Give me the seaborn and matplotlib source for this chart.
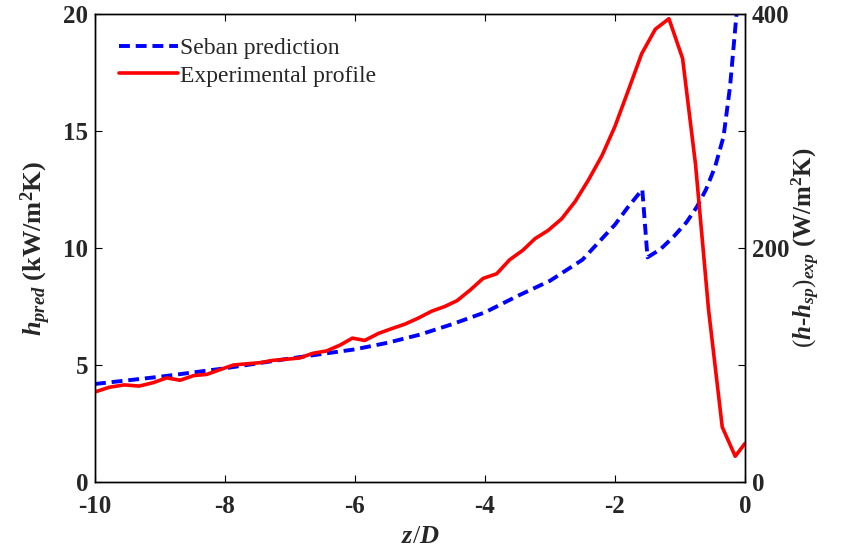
import numpy as np
import pandas as pd
import matplotlib.pyplot as plt
import seaborn as sns
from matplotlib.lines import Line2D

# Seban prediction (kW/m2K)
z_seban = [-10, -9, -8, -7, -6, -5.5, -5, -4.5, -4, -3.5, -3, -2.5, -2, -1.8, -1.58,
           -1.5, -1.3, -1.1, -0.9, -0.74, -0.6, -0.46, -0.33, -0.23, -0.13, -0.05]
h_seban = [4.19, 4.5, 4.86, 5.28, 5.67, 5.95, 6.3, 6.75, 7.25, 7.95, 8.6, 9.5, 11.0, 11.75, 12.5,
           9.6, 9.95, 10.48, 11.1, 11.76, 12.5, 13.47, 14.76, 16.9, 20.0, 24.0]

# experimental profile (W/m2K)
z_exp = [-10.0, -9.78, -9.55, -9.32, -9.10, -8.90, -8.69, -8.48, -8.28, -8.08,
         -7.87, -7.67, -7.46, -7.26, -7.05, -6.85, -6.65, -6.44, -6.23, -6.04,
         -5.85, -5.64, -5.44, -5.23, -5.03, -4.82, -4.62, -4.43, -4.23, -4.03,
         -3.82, -3.62, -3.42, -3.23, -3.03, -2.82, -2.61, -2.41, -2.20, -2.00,
         -1.80, -1.59, -1.38, -1.17, -0.96, -0.76, -0.56, -0.35, -0.15, 0.0]
h_exp = [77, 81, 83, 82, 85, 89, 87, 91, 92, 96,
         100, 101, 102, 104, 105, 106, 110, 112, 117, 123,
         121, 127, 131, 135, 140, 146, 150, 155, 164, 174,
         178, 190, 198, 208, 215, 225, 240, 258, 279, 304,
         334, 366, 387, 396, 362, 271, 147, 47, 22, 33]

sns.set_style("ticks")
plt.rcParams['font.family'] = ['Liberation Serif', 'DejaVu Serif']
plt.rcParams['mathtext.fontset'] = 'custom'
plt.rcParams['mathtext.rm'] = 'Liberation Serif'
plt.rcParams['mathtext.it'] = 'Liberation Serif:italic:bold'
plt.rcParams['mathtext.bf'] = 'Liberation Serif:bold'
plt.rcParams['xtick.direction'] = 'in'
plt.rcParams['ytick.direction'] = 'in'
plt.rcParams['axes.unicode_minus'] = False

fig = plt.figure(figsize=(8.46, 5.5), dpi=100)
ax = fig.add_axes([0.1123, 0.1236, 0.7683, 0.8509])
ax2 = ax.twinx()

seban = pd.DataFrame({"z": z_seban, "h": h_seban})
exp = pd.DataFrame({"z": z_exp, "h": h_exp})

sns.lineplot(data=seban, x="z", y="h", ax=ax, color="#0000ff", lw=2.8, sort=False)
ax.lines[0].set_dashes([2.8, 1.5])
sns.lineplot(data=exp, x="z", y="h", ax=ax2, color="#ff0000", lw=2.6, sort=False)

ax.set_xlim(-10, 0)
ax.set_ylim(0, 20)
ax2.set_ylim(0, 400)
ax.set_xticks([-10, -8, -6, -4, -2, 0])
ax.set_yticks([0, 5, 10, 15, 20])
ax2.set_yticks([0, 100, 200, 300, 400])
ax2.set_yticklabels(["0", "", "200", "", "400"])

for a in (ax, ax2):
    a.tick_params(labelsize=18, length=5, width=0.8, color="black", pad=5)
    for lab in a.get_xticklabels() + a.get_yticklabels():
        lab.set_fontweight("bold")
    for sp in a.spines.values():
        sp.set_visible(True)
        sp.set_linewidth(1.0)
        sp.set_color("black")
ax.tick_params(axis="x", pad=9)
ax.tick_params(top=True, right=False)
ax2.tick_params(right=True, left=False)

ax.set_xlabel(r"$z/D$", fontsize=19, labelpad=6)
ax.set_ylabel(r"$h_{pred}$ (kW/m$^{\mathbf{2}}$K)", fontsize=19, fontweight="bold", labelpad=7)
ax2.set_ylabel(r"$(h$-$h_{sp})_{exp}$ (W/m$^{\mathbf{2}}$K)", fontsize=18, fontweight="bold",
               rotation=90, labelpad=0)

handles = [Line2D([], [], color="#0000ff", lw=2.8, dashes=[2.8, 1.5]),
           Line2D([], [], color="#ff0000", lw=2.6)]
ax.legend(handles, ["Seban prediction", "Experimental profile"], loc="upper left",
          frameon=False, fontsize=17, handlelength=2.5, handletextpad=0.1,
          labelspacing=0.25, borderaxespad=0.6)

fig.savefig("out.png", dpi=100)
